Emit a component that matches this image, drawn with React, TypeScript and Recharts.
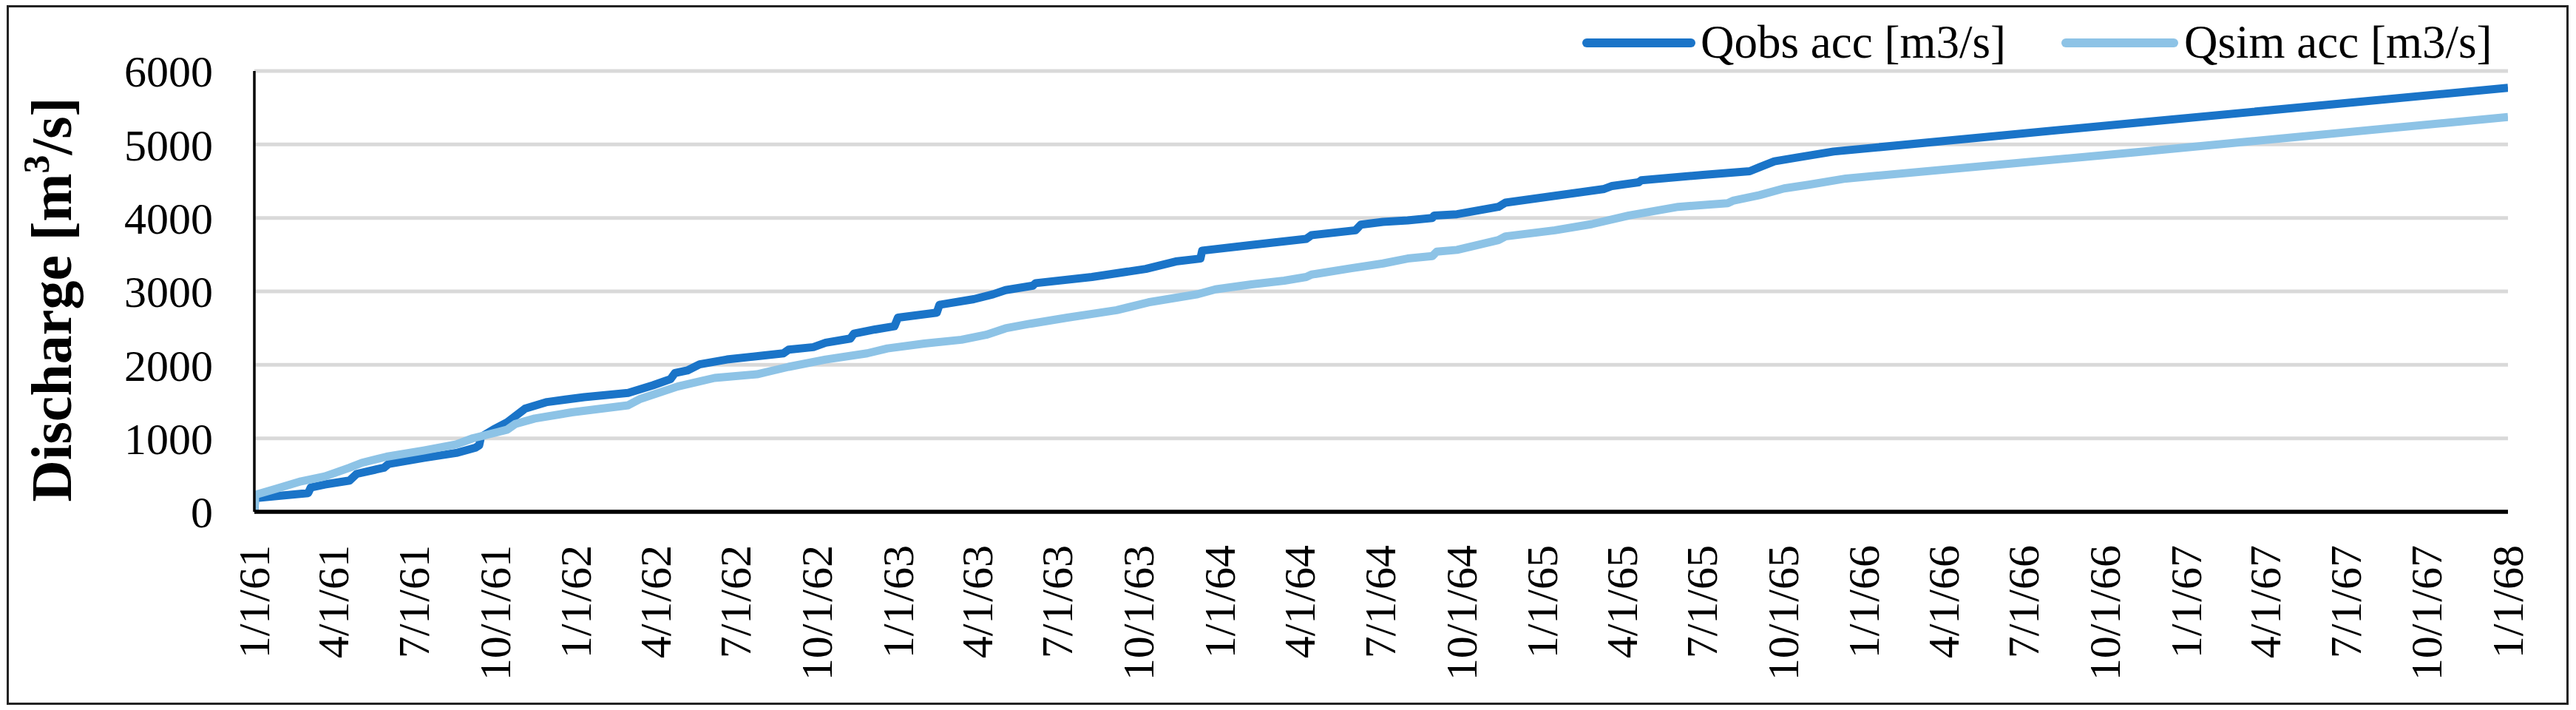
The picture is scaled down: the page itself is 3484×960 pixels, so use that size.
import React from 'react';
import { LineChart, Line, XAxis, YAxis, CartesianGrid, Legend } from 'recharts';

// ---------- data ----------
const tickLabels = [
  '1/1/61', '4/1/61', '7/1/61', '10/1/61',
  '1/1/62', '4/1/62', '7/1/62', '10/1/62',
  '1/1/63', '4/1/63', '7/1/63', '10/1/63',
  '1/1/64', '4/1/64', '7/1/64', '10/1/64',
  '1/1/65', '4/1/65', '7/1/65', '10/1/65',
  '1/1/66', '4/1/66', '7/1/66', '10/1/66',
  '1/1/67', '4/1/67', '7/1/67', '10/1/67',
  '1/1/68',
];

const yTicks = [0, 1000, 2000, 3000, 4000, 5000, 6000];

// days since 1/1/61
const obsDays = [
  0, 1, 25, 61, 64, 80, 108, 116, 147, 152, 192, 229, 251, 255, 257, 271, 287, 307, 332, 374,
  424, 452, 472, 477, 491, 505, 536, 575, 600, 606, 634, 648, 676, 680, 704, 726, 730, 774, 777, 816,
  838, 852, 883, 886, 950, 1011, 1045, 1073, 1075, 1131, 1193, 1199, 1249, 1255, 1280, 1308, 1336, 1338,
  1364, 1411, 1419, 1475, 1531, 1540, 1570, 1573, 1643, 1696, 1707, 1724, 1749, 1791, 2135, 2556,
];
const obsValues = [
  0, 185, 214, 254, 330, 372, 425, 516, 600, 650, 734, 801, 874, 905, 1018, 1119, 1219, 1404, 1494, 1561,
  1618, 1722, 1806, 1889, 1923, 2007, 2073, 2124, 2157, 2208, 2241, 2301, 2358, 2425, 2482, 2526, 2643, 2710, 2817, 2894,
  2961, 3018, 3078, 3112, 3196, 3306, 3407, 3447, 3555, 3631, 3715, 3766, 3832, 3909, 3946, 3967, 4000, 4033,
  4050, 4151, 4208, 4301, 4395, 4435, 4485, 4512, 4586, 4636, 4690, 4771, 4821, 4904, 5296, 5770,
];

const simDays = [
  0, 1, 25, 53, 80, 108, 122, 150, 192, 229, 248, 276, 287, 296, 318, 360,
  424, 438, 480, 522, 570, 606, 648, 695, 718, 760, 802, 830, 852, 880, 922, 978,
  1014, 1070, 1090, 1131, 1168, 1193, 1199, 1243, 1280, 1308, 1336, 1341, 1364, 1411, 1419, 1475,
  1517, 1559, 1615, 1671, 1677, 1707, 1735, 1763, 1805, 2135, 2556,
];
const simValues = [
  0, 231, 315, 415, 482, 600, 667, 750, 834, 918, 1002, 1085, 1119, 1196, 1270, 1354,
  1450, 1538, 1705, 1822, 1872, 1973, 2073, 2157, 2224, 2291, 2342, 2409, 2497, 2560, 2643, 2744,
  2851, 2962, 3028, 3095, 3146, 3196, 3229, 3313, 3380, 3447, 3480, 3541, 3565, 3698, 3749, 3832,
  3916, 4033, 4151, 4201, 4234, 4310, 4402, 4452, 4536, 4895, 5374,
];

const seriesNames = ['Qobs acc [m3/s]', 'Qsim acc [m3/s]'];
const seriesColors = ['#1a74c8', '#8dc3e6'];

// ---------- derived ----------
const BASE = Date.UTC(1961, 0, 1);
const labelToDay = (s: string) => {
  const [m, d, y] = s.split('/').map(Number);
  return Math.round((Date.UTC(1900 + y, m - 1, d) - BASE) / 86400000);
};
const xTicks = tickLabels.map(labelToDay);
const dayLabel = new Map<number, string>(xTicks.map((d, i) => [d, tickLabels[i]]));

const obsData = obsDays.map((d, i) => ({ day: d, v: obsValues[i] }));
const simData = simDays.map((d, i) => ({ day: d, v: simValues[i] }));

const FONT = '"Liberation Serif", "Times New Roman", serif';

const XTick = (props: any) => {
  const { x, y, payload } = props;
  return (
    <text
      transform={`translate(${x}, ${y}) rotate(-90)`}
      textAnchor="end"
      dominantBaseline="central"
      fontSize={60}
      fontFamily={FONT}
      fill="#000"
    >
      {dayLabel.get(payload.value) ?? ''}
    </text>
  );
};

const YTitle = () => (
  <text
    transform="translate(96, 405) rotate(-90)"
    textAnchor="middle"
    fontSize={78}
    fontWeight="bold"
    fontFamily={FONT}
    fill="#000"
  >
    Discharge [m
    <tspan dy={-30} fontSize={50}>3</tspan>
    <tspan dy={30}>/s]</tspan>
  </text>
);

const LegendContent = () => (
  <svg width={3484} height={130} style={{ display: 'block' }}>
    <line x1={2146} y1={58} x2={2287} y2={58} stroke={seriesColors[0]} strokeWidth={12} strokeLinecap="round" />
    <text x={2300} y={78} fontSize={63} fontFamily={FONT} fill="#000">{seriesNames[0]}</text>
    <line x1={2794} y1={58} x2={2940} y2={58} stroke={seriesColors[1]} strokeWidth={12} strokeLinecap="round" />
    <text x={2954} y={78} fontSize={63} fontFamily={FONT} fill="#000">{seriesNames[1]}</text>
  </svg>
);

export default function App() {
  return (
    <div style={{ position: 'absolute', left: 0, top: 0, width: 3484, height: 960, background: '#fff', fontFamily: FONT }}>
      <LineChart width={3484} height={960} margin={{ top: 96, right: 92, left: 0, bottom: 0 }}>
        <CartesianGrid horizontal vertical={false} stroke="#d9d9d9" strokeWidth={5} />
        <XAxis
          dataKey="day"
          type="number"
          domain={[0, 2556]}
          ticks={xTicks}
          interval={0}
          allowDataOverflow
          height={268}
          tickLine={false}
          tickSize={0}
          tickMargin={45}
          axisLine={{ stroke: '#000', strokeWidth: 5.5 }}
          tick={<XTick />}
        />
        <YAxis
          type="number"
          domain={[0, 6000]}
          ticks={yTicks}
          interval={0}
          width={344}
          tickLine={false}
          tickSize={0}
          tickMargin={56}
          axisLine={{ stroke: '#000', strokeWidth: 3.5 }}
          tick={{ fontSize: 60, fill: '#000', fontFamily: FONT }}
          label={<YTitle />}
        />
        <Legend
          layout="vertical"
          align="center"
          verticalAlign="middle"
          wrapperStyle={{ left: 0, top: 0, width: 3484, height: 130 }}
          content={() => <LegendContent />}
        />
        <Line
          data={obsData}
          dataKey="v"
          name={seriesNames[0]}
          type="linear"
          stroke={seriesColors[0]}
          strokeWidth={11}
          strokeLinejoin="round"
          dot={false}
          activeDot={false}
          isAnimationActive={false}
        />
        <Line
          data={simData}
          dataKey="v"
          name={seriesNames[1]}
          type="linear"
          stroke={seriesColors[1]}
          strokeWidth={11}
          strokeLinejoin="round"
          dot={false}
          activeDot={false}
          isAnimationActive={false}
        />
      </LineChart>
      <div
        style={{
          position: 'absolute',
          left: 9,
          top: 7,
          width: 3465,
          height: 946,
          border: '3px solid #222',
          boxSizing: 'border-box',
          pointerEvents: 'none',
        }}
      />
    </div>
  );
}
